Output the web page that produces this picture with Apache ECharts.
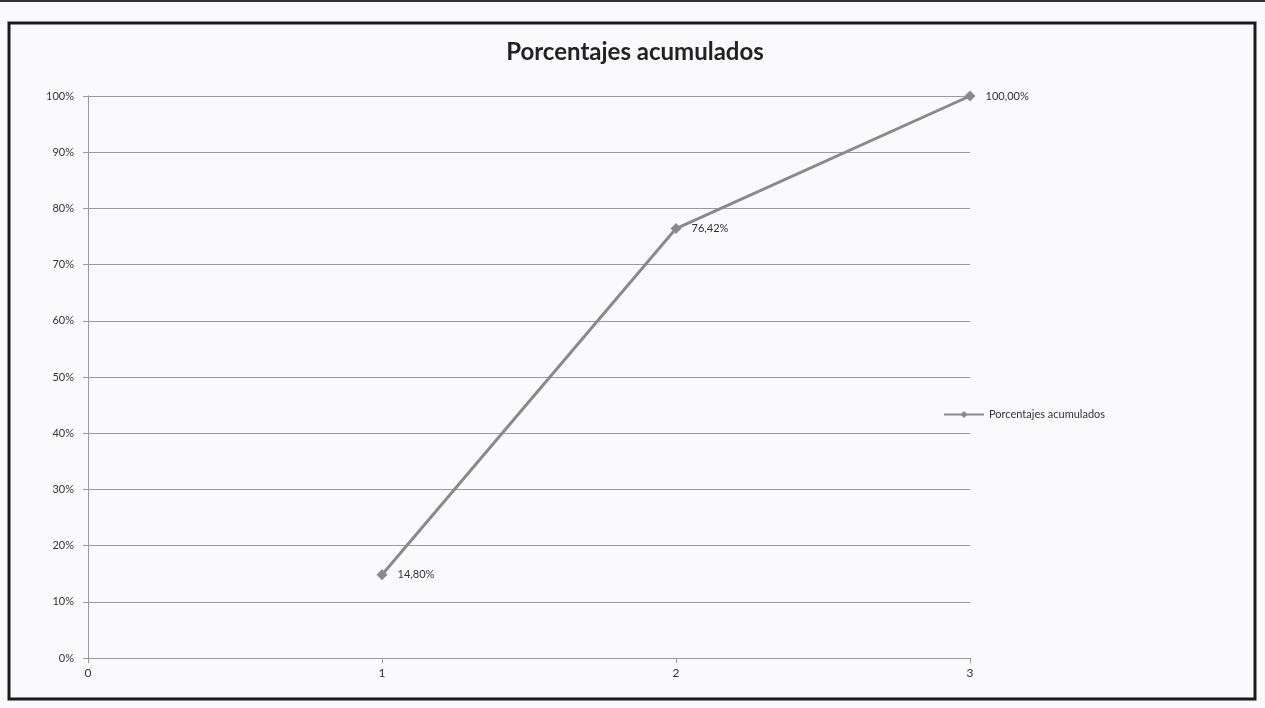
<!DOCTYPE html>
<html>
<head>
<meta charset="utf-8">
<script src="https://cdn.jsdelivr.net/npm/echarts@6/dist/echarts.min.js"></script>
<style>
  html, body { margin: 0; padding: 0; background: #fafafc; }
  #chart { width: 1265px; height: 708px; }
</style>
</head>
<body>
<div id="chart"></div>
<script>
// datos
const xValues = [1, 2, 3]
const acumulados = [0.148, 0.7642, 1.0]
const seriesName = 'Porcentajes acumulados'

let chart = echarts.init(document.getElementById('chart'))

// formato con coma decimal
function pct(v) {
  return (v * 100).toFixed(2).replace('.', ',') + '%'
}

let points = []
for (let i = 0; i < xValues.length; i++) {
  points.push([xValues[i], acumulados[i]])
}

let option = {
  backgroundColor: '#fafafc',
  textStyle: { fontFamily: 'Lato, "Open Sans", sans-serif' },
  title: {
    text: 'Porcentajes acumulados',
    left: 630,
    top: 35,
    textAlign: 'center',
    textStyle: { fontSize: 24, fontWeight: 'bold', color: '#222', fontFamily: 'Lato, sans-serif' }
  },
  legend: {
    left: 938,
    top: 404,
    itemWidth: 40,
    itemHeight: 9,
    itemGap: 4,
    textStyle: { fontSize: 11, color: '#333' },
    data: [seriesName]
  },
  grid: {
    left: 88,
    right: 295,
    top: 96,
    bottom: 50
  },
  xAxis: {
    type: 'value',
    min: 0,
    max: 3,
    interval: 1,
    splitLine: { show: false },
    axisLine: { lineStyle: { color: '#999' } },
    axisTick: { show: true, length: 5, lineStyle: { color: '#999' } },
    axisLabel: { color: '#333', fontSize: 12, margin: 9 }
  },
  yAxis: {
    type: 'value',
    min: 0,
    max: 1,
    interval: 0.1,
    axisLine: { show: true, lineStyle: { color: '#999' } },
    axisTick: { show: true, length: 5, lineStyle: { color: '#999' } },
    splitLine: { lineStyle: { color: '#9a9a9a', width: 1 } },
    axisLabel: {
      color: '#333',
      fontSize: 11,
      margin: 14,
      formatter: function (v) { return Math.round(v * 100) + '%' }
    }
  },
  series: [{
    name: seriesName,
    type: 'line',
    data: points,
    symbol: 'diamond',
    symbolSize: 11,
    lineStyle: { color: '#8a8a8a', width: 3 },
    itemStyle: { color: '#8a8a8a' },
    label: {
      show: true,
      position: 'right',
      distance: 10,
      color: '#333',
      fontSize: 11,
      formatter: function (p) { return pct(p.value[1]) }
    }
  }],
  graphic: [
    {
      type: 'rect',
      shape: { x: 9, y: 23, width: 1246, height: 676 },
      style: { fill: 'none', stroke: '#1a1a1a', lineWidth: 3 }
    },
    {
      type: 'line',
      shape: { x1: 0, y1: 1, x2: 1265, y2: 1 },
      style: { stroke: '#333', lineWidth: 2 }
    }
  ]
}

chart.setOption(option)
window.addEventListener('resize', () => {
  chart.resize()
})
</script>
</body>
</html>
